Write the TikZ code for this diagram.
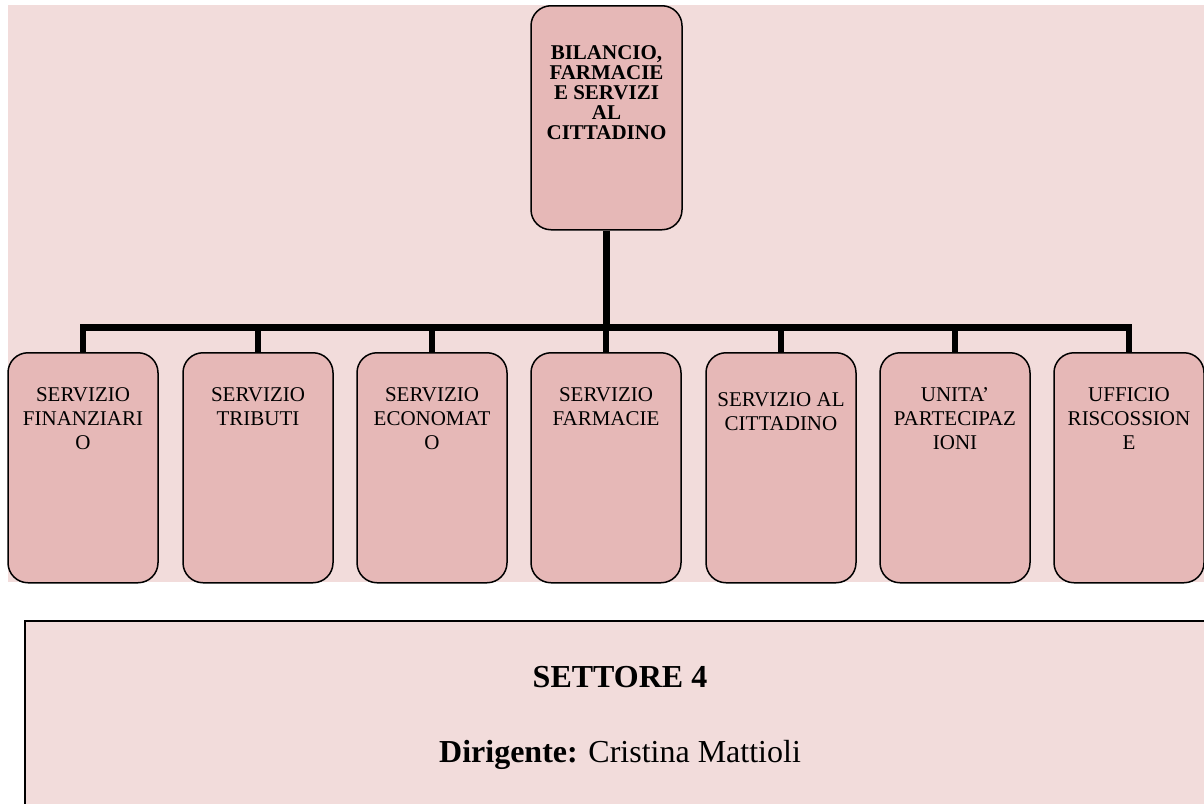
\documentclass[tikz,border=0pt]{standalone}
\usepackage{fontspec}
\setmainfont{Liberation Serif}
\begin{document}
\definecolor{panelpink}{HTML}{F2DCDB}
\definecolor{boxpink}{HTML}{E6B8B7}
\tikzset{
  unitbox/.style={draw=black, line width=1.5pt, fill=boxpink, rounded corners=20pt,
    minimum width=150pt, minimum height=230pt, inner sep=0pt, anchor=north},
  headbox/.style={draw=black, line width=1.5pt, fill=boxpink, rounded corners=20pt,
    minimum width=151pt, minimum height=224pt, inner sep=0pt, anchor=north},
  unitlabel/.style={align=center, inner sep=0pt, anchor=north,
    font=\fontsize{21pt}{24.3pt}\selectfont},
  headlabel/.style={align=center, inner sep=0pt, anchor=north,
    font=\fontsize{21pt}{20pt}\selectfont\bfseries},
  link/.style={line width=6.5pt},
  infotext/.style={inner sep=0pt, anchor=base, font=\fontsize{32pt}{38pt}\selectfont}
}
\begin{tikzpicture}[x=1pt, y=-1pt]
  \useasboundingbox (0,0) rectangle (1204,803);
  \clip (0,0) rectangle (1204,803);

  % chart backdrop
  \fill[panelpink] (8,5) rectangle (1204,582);

  % sector head
  \node[headbox] (head) at (606.5,5) {};
  \node[headlabel] (headtxt) at ([yshift=-40pt]head.north)
    {BILANCIO,\\FARMACIE\\E SERVIZI\\AL\\CITTADINO};

  % services
  \node[unitbox] (s1) at (83,352) {};
  \node[unitbox] (s2) at (258,352) {};
  \node[unitbox] (s3) at (432,352) {};
  \node[unitbox] (s4) at (606,352) {};
  \node[unitbox] (s5) at (781,352) {};
  \node[unitbox] (s6) at (955,352) {};
  \node[unitbox] (s7) at (1129,352) {};

  \node[unitlabel] (t1) at ([yshift=-35pt]s1.north) {SERVIZIO\\FINANZIARI\\O};
  \node[unitlabel] (t2) at ([yshift=-35pt]s2.north) {SERVIZIO\\TRIBUTI};
  \node[unitlabel] (t3) at ([yshift=-35pt]s3.north) {SERVIZIO\\ECONOMAT\\O};
  \node[unitlabel] (t4) at ([yshift=-35pt]s4.north) {SERVIZIO\\FARMACIE};
  \node[unitlabel] (t5) at ([yshift=-40pt]s5.north) {SERVIZIO AL\\CITTADINO};
  \node[unitlabel] (t6) at ([yshift=-35pt]s6.north) {UNITA’\\PARTECIPAZ\\IONI};
  \node[unitlabel] (t7) at ([yshift=-35pt]s7.north) {UFFICIO\\RISCOSSION\\E};

  % tree connectors
  \coordinate (bus) at (606.5,327.5);
  \draw[link] (head.south) -- (bus);
  \foreach \k in {1,...,7} {
    \draw[link] (bus) -| (s\k.north);
  }

  % sector info panel
  \draw[line width=1.8pt, fill=panelpink] (25,621) rectangle (1215,815);
  \node[infotext] (sector) at (620,687) {\bfseries SETTORE 4};
  \node[infotext] (manager) at (620,762) {\textbf{Dirigente:} Cristina Mattioli};
\end{tikzpicture}
\end{document}
